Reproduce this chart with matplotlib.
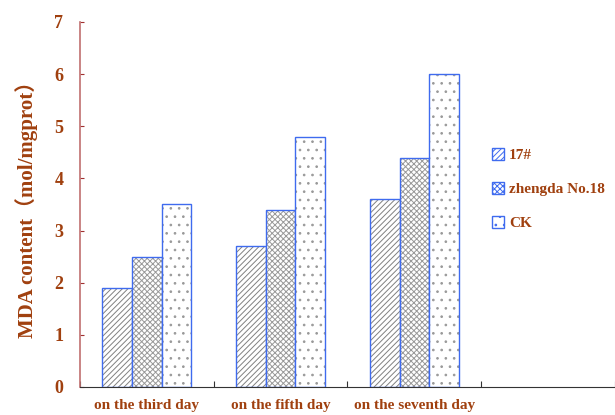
import matplotlib.pyplot as plt
import numpy as np
from matplotlib.patches import Patch

plt.rcParams['hatch.linewidth'] = 0.7

days = ["on the third day", "on the fifth day", "on the seventh day", ""]
series = ["17#", "zhengda No.18", "CK"]
v_17 = [1.9, 2.7, 3.6]
v_zd = [2.5, 3.4, 4.4]
v_ck = [3.5, 4.8, 6.0]

brown = "#A0400F"
edge = "#3F6BEF"
serif = ["Liberation Serif", "Noto Sans CJK SC"]

fig = plt.figure(figsize=(6.15, 4.15), dpi=100)
ax = fig.add_axes([0.130, 0.0675, 0.870, 0.8795])

x = np.arange(3)
w = 0.222
hatches = ["//////", "xxxxxx", ".."]
hcolors = ["#808080", "#999999", "#999999"]
for i, (vals, name) in enumerate(zip([v_17, v_zd, v_ck], series)):
    # hatch layer in grey, outline in blue on top
    ax.bar(x + (i - 1) * w, vals, w, facecolor="white", edgecolor=hcolors[i],
           hatch=hatches[i], linewidth=0)
    ax.bar(x + (i - 1) * w, vals, w, facecolor="none", edgecolor=edge,
           linewidth=1.0)

ax.set_xlim(-0.5, 3.5)
ax.set_ylim(0, 7)
ax.set_yticks(range(8))
ax.set_yticklabels([str(i) for i in range(8)], fontfamily=serif,
                   fontweight="bold", fontsize=13, color=brown)
ax.set_xticks(np.arange(-0.5, 4.0, 1.0))
ax.set_xticklabels([])
ax.set_xticks(np.arange(4), minor=True)
ax.set_xticklabels(days, minor=True, fontfamily=serif, fontweight="bold",
                   fontsize=11, color=brown)
ax.tick_params(axis="x", which="minor", length=0, pad=9)
ax.tick_params(axis="x", which="major", direction="in", length=4, color="#333333")
ax.tick_params(axis="y", direction="in", length=3, color="#A03030", pad=12)

ax.spines["top"].set_visible(False)
ax.spines["right"].set_visible(False)
ax.spines["left"].set_color("#C07070")
ax.spines["left"].set_linewidth(1.2)
ax.spines["bottom"].set_color("#333333")

ax.set_ylabel("MDA content（mol/mgprot）", fontfamily=serif, fontweight="bold",
              fontsize=15, color=brown, labelpad=12)

handles = []
for i, name in enumerate(series):
    handles.append(Patch(facecolor="white", edgecolor=edge, hatch=hatches[i],
                         linewidth=1.0, label=name))
leg = ax.legend(handles=handles, loc="upper left", bbox_to_anchor=(0.755, 0.675),
                frameon=False, borderpad=0,
                prop={"family": serif, "weight": "bold", "size": 11},
                handlelength=0.8, handleheight=0.8, labelspacing=1.3,
                handletextpad=0.35)
for t in leg.get_texts():
    t.set_color(brown)

fig.savefig("out.png", dpi=100)
